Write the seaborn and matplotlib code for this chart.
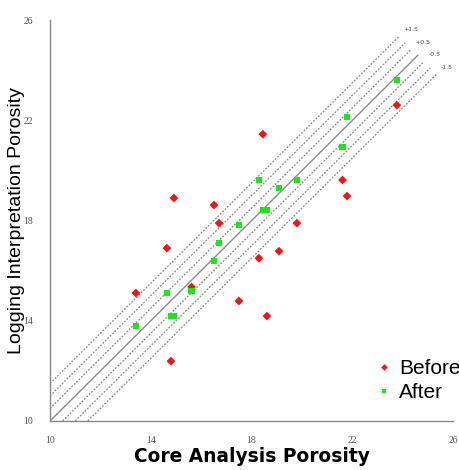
import numpy as np
import pandas as pd
import matplotlib
matplotlib.use("Agg")
import matplotlib.pyplot as plt
import seaborn as sns

# core analysis porosity (shared by before/after)
core = [13.41, 14.64, 14.80, 14.92, 15.62, 16.51, 16.71, 17.50,
        18.29, 18.45, 18.61, 19.09, 19.80, 21.61, 21.79, 23.77]
before = [15.11, 16.90, 12.39, 18.90, 15.35, 18.62, 17.90, 14.79,
          16.50, 21.45, 14.19, 16.78, 17.90, 19.62, 18.98, 22.61]
after = [13.79, 15.11, 14.19, 14.19, 15.19, 16.38, 17.10, 17.82,
         19.62, 18.42, 18.42, 19.30, 19.62, 20.93, 22.13, 23.61]

offsets = [1.5, 1.0, 0.5, 0.0, -0.5, -1.0, -1.5]
offset_labels = {1.5: "+1.5", 0.5: "+0.5", -0.5: "-0.5", -1.5: "-1.5"}
line_end_sum = 49.2  # lines stop where x + y reaches this

ticks = [10, 14, 18, 22, 26]

df = pd.DataFrame({
    "core": core * 2,
    "log": before + after,
    "stage": ["Before"] * len(core) + ["After"] * len(core),
})

sns.set_style("white")
plt.rcParams["text.color"] = "black"
plt.rcParams["axes.labelcolor"] = "black"

fig = plt.figure(figsize=(4.6, 4.7), dpi=100)
ax = fig.add_axes([0.1087, 0.1043, 0.8763, 0.8527])

# reference lines
for d in offsets:
    x0 = max(10, 10 - d)
    x1 = (line_end_sum - d) / 2
    xs = np.array([x0, x1])
    if d == 0:
        ax.plot(xs, xs + d, color="#8a8a8a", lw=1.0, zorder=1)
    else:
        ax.plot(xs, xs + d, color="#8a8a8a", lw=0.9, ls=(0, (1.5, 1.2)), zorder=1)
    if d in offset_labels:
        ax.annotate(offset_labels[d], (x1, x1 + d), xytext=(3, 3),
                    textcoords="offset points", fontsize=4.5, color="#555555",
                    ha="left", va="bottom")

sns.scatterplot(data=df, x="core", y="log", hue="stage", style="stage",
                palette={"Before": "#ff1010", "After": "#10ee10"},
                markers={"Before": "D", "After": "s"},
                s=20, edgecolor="none", ax=ax, zorder=3)

ax.set_xlim(10, 26)
ax.set_ylim(10, 26)
ax.set_xticks(ticks)
ax.set_yticks(ticks)
ax.set_xticklabels([str(t) for t in ticks], family="Liberation Serif",
                   fontsize=7, color="#555555")
ax.set_yticklabels([str(t) for t in ticks], family="Liberation Serif",
                   fontsize=7, color="#555555")
ax.tick_params(axis="x", direction="in", length=3, color="#888888", pad=11)
ax.tick_params(axis="y", direction="in", length=3, color="#888888", pad=12)

for side in ["top", "right"]:
    ax.spines[side].set_visible(False)
for side in ["left", "bottom"]:
    ax.spines[side].set_color("#888888")
    ax.spines[side].set_linewidth(1.0)

ax.set_xlabel("Core Analysis Porosity", fontsize=13.4, fontweight="bold",
              family="DejaVu Sans", labelpad=1)
ax.set_ylabel("Logging Interpretation Porosity", fontsize=14,
              family="Liberation Sans")
ax.yaxis.set_label_coords(-0.062, 0.5)

handles, labels = ax.get_legend_handles_labels()
ax.legend(handles, labels, loc="lower right", bbox_to_anchor=(1.065, 0.0),
          frameon=False, prop={"family": "Liberation Sans", "size": 15},
          handletextpad=0.1, labelspacing=0.25, markerscale=0.75,
          handlelength=1.2)

fig.savefig("out.png", dpi=100)
